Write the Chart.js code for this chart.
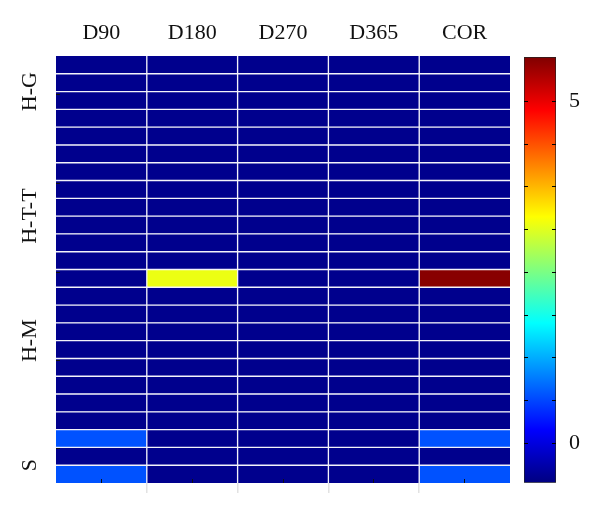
<!DOCTYPE html>
<html>
<head>
<meta charset="utf-8">
<title>Heatmap</title>
<script src="https://cdn.jsdelivr.net/npm/chart.js"></script>
<style>
    body { margin: 0; background: #fff; }
    .wrap { position: relative; width: 600px; height: 513px; }
    #heatmap { position: absolute; left: 0; top: 0; }
    #colorbar { position: absolute; left: 500px; top: 0; }
</style>
</head>
<body>
<div class="wrap">
    <canvas id="heatmap" width="600" height="513"></canvas>
    <canvas id="colorbar" width="100" height="513"></canvas>
</div>
<script>
// Columns across the top
const columns = ['D90', 'D180', 'D270', 'D365', 'COR'];

// 24 rows, top to bottom
const rows = ['1', '2', '3', '4', '5', '6', '7', '8', '9', '10', '11', '12',
              '13', '14', '15', '16', '17', '18', '19', '20', '21', '22', '23', '24'];

// Group labels on the left and the row position they sit at
const groupLabels = ['H-G', 'H-T-T', 'H-M', 'S'];
const groupRows = [2, 9, 16, 23];

// Small inner tick marks on the left edge (row units)
const leftTickRows = [4.66, 9.67, 14.68, 19.6];

// Cell values per column (top row first)
const d90  = [-0.5, -0.5, -0.5, -0.5, -0.5, -0.5, -0.5, -0.5, -0.5, -0.5, -0.5, -0.5,
              -0.5, -0.5, -0.5, -0.5, -0.5, -0.5, -0.5, -0.5, -0.5, 0.7, -0.5, 0.7];
const d180 = [-0.5, -0.5, -0.5, -0.5, -0.5, -0.5, -0.5, -0.5, -0.5, -0.5, -0.5, -0.5,
              3.2, -0.5, -0.5, -0.5, -0.5, -0.5, -0.5, -0.5, -0.5, -0.5, -0.5, -0.5];
const d270 = [-0.5, -0.5, -0.5, -0.5, -0.5, -0.5, -0.5, -0.5, -0.5, -0.5, -0.5, -0.5,
              -0.5, -0.5, -0.5, -0.5, -0.5, -0.5, -0.5, -0.5, -0.5, -0.5, -0.5, -0.5];
const d365 = [-0.5, -0.5, -0.5, -0.5, -0.5, -0.5, -0.5, -0.5, -0.5, -0.5, -0.5, -0.5,
              -0.5, -0.5, -0.5, -0.5, -0.5, -0.5, -0.5, -0.5, -0.5, -0.5, -0.5, -0.5];
const cor  = [-0.5, -0.5, -0.5, -0.5, -0.5, -0.5, -0.5, -0.5, -0.5, -0.5, -0.5, -0.5,
              5.6, -0.5, -0.5, -0.5, -0.5, -0.5, -0.5, -0.5, -0.5, 0.7, -0.5, 0.7];

// Colour scale range and colorbar ticks
const colorMin = -0.58;
const colorMax = 5.65;
const colorTicks = [0, 0.625, 1.25, 1.875, 2.5, 3.125, 3.75, 4.375, 5];
const colorTickLabels = ['0', '', '', '', '', '', '', '', '5'];

const serif = { family: '"Liberation Serif", "DejaVu Serif", serif', size: 22 };

// MATLAB style jet colormap
function clamp01(x) {
    return Math.max(0, Math.min(1, x));
}

function jet(v) {
    const t = clamp01((v - colorMin) / (colorMax - colorMin));
    const r = clamp01(Math.min(4 * t - 1.5, -4 * t + 4.5));
    const g = clamp01(Math.min(4 * t - 0.5, -4 * t + 3.5));
    const b = clamp01(Math.min(4 * t + 0.5, -4 * t + 2.5));
    return 'rgb(' + Math.round(r * 255) + ',' + Math.round(g * 255) + ',' + Math.round(b * 255) + ')';
}

function jetGradient(ctx) {
    const area = ctx.chart.chartArea;
    if (!area) return null;
    const g = ctx.chart.ctx.createLinearGradient(0, area.bottom, 0, area.top);
    g.addColorStop(0, '#000080');
    g.addColorStop(0.125, '#0000ff');
    g.addColorStop(0.375, '#00ffff');
    g.addColorStop(0.625, '#ffff00');
    g.addColorStop(0.875, '#ff0000');
    g.addColorStop(1, '#800000');
    return g;
}

// Build the heatmap: one floating bar dataset per column
function initializeHeatmap() {
    const values = [d90, d180, d270, d365, cor];
    const datasets = columns.map((name, c) => ({
        label: name,
        data: rows.map(() => [c, c + 1]),
        backgroundColor: values[c].map(jet),
        borderColor: '#f3f3fa',
        borderWidth: ctx => ({
            top: ctx.dataIndex === 0 ? 0 : 1,
            bottom: ctx.dataIndex === rows.length - 1 ? 0 : 1,
            left: c === 0 ? 0 : 1,
            right: c === columns.length - 1 ? 0 : 1
        }),
        borderSkipped: false,
        grouped: false,
        barPercentage: 1,
        categoryPercentage: 1
    }));

    new Chart(document.getElementById('heatmap'), {
        type: 'bar',
        data: { labels: rows, datasets: datasets },
        options: {
            indexAxis: 'y',
            responsive: false,
            animation: false,
            layout: { padding: { left: 0, top: 0, right: 90, bottom: 20 } },
            plugins: { legend: { display: false }, tooltip: { enabled: false } },
            scales: {
                x: {
                    type: 'linear',
                    position: 'top',
                    min: 0,
                    max: columns.length,
                    offset: false,
                    afterBuildTicks: s => { s.ticks = columns.map((_, i) => ({ value: i + 0.5 })); },
                    afterFit: s => { s.height = 56; },
                    ticks: {
                        callback: (v, i) => columns[i],
                        font: serif,
                        color: '#111',
                        padding: 10,
                        autoSkip: false,
                        maxRotation: 0
                    },
                    grid: { display: false, drawTicks: false },
                    border: { display: false }
                },
                // inner black ticks at column centres
                xc: {
                    type: 'linear',
                    position: 'bottom',
                    weight: 0,
                    min: 0,
                    max: columns.length,
                    offset: false,
                    afterBuildTicks: s => { s.ticks = columns.map((_, i) => ({ value: i + 0.5 })); },
                    afterFit: s => { s.height = 0; },
                    ticks: { display: false },
                    grid: { drawOnChartArea: false, tickLength: -4, color: '#111', z: 1 },
                    border: { display: false }
                },
                // light lines below the map at column boundaries
                xb: {
                    type: 'linear',
                    position: 'bottom',
                    weight: 1,
                    min: 0,
                    max: columns.length,
                    offset: false,
                    afterBuildTicks: s => { s.ticks = columns.slice(1).map((_, i) => ({ value: i + 1 })); },
                    afterFit: s => { s.height = 10; },
                    ticks: { display: false },
                    grid: { drawOnChartArea: false, tickLength: 10, color: '#e2e2e2', lineWidth: 1.5 },
                    border: { display: false }
                },
                y: {
                    type: 'category',
                    display: false
                },
                // inner black ticks on the left edge
                yt: {
                    type: 'linear',
                    position: 'left',
                    weight: 0,
                    min: 0,
                    max: rows.length,
                    reverse: true,
                    offset: false,
                    afterBuildTicks: s => { s.ticks = leftTickRows.map(v => ({ value: v })); },
                    afterFit: s => { s.width = 0; },
                    ticks: { display: false },
                    grid: { drawOnChartArea: false, tickLength: -4, color: '#111', z: 1 },
                    border: { display: false }
                },
                yl: {
                    type: 'linear',
                    position: 'left',
                    weight: 1,
                    min: 0,
                    max: rows.length,
                    reverse: true,
                    offset: false,
                    afterBuildTicks: s => { s.ticks = groupRows.map(v => ({ value: v })); },
                    afterFit: s => { s.width = 56; },
                    ticks: {
                        callback: (v, i) => groupLabels[i],
                        font: serif,
                        color: '#111',
                        minRotation: 90,
                        maxRotation: 90,
                        crossAlign: 'center',
                        padding: -2,
                        autoSkip: false
                    },
                    grid: { display: false, drawTicks: false },
                    border: { display: false }
                }
            }
        }
    });
}

// Build the colorbar on its own canvas
function initializeColorbar() {
    new Chart(document.getElementById('colorbar'), {
        type: 'bar',
        data: {
            labels: ['scale'],
            datasets: [{
                data: [[colorMin, colorMax]],
                backgroundColor: jetGradient,
                borderColor: '#222',
                borderWidth: 1,
                borderSkipped: false,
                barPercentage: 1,
                categoryPercentage: 1
            }]
        },
        options: {
            responsive: false,
            animation: false,
            layout: { padding: { left: 24, right: 0, top: 57, bottom: 29 } },
            plugins: { legend: { display: false }, tooltip: { enabled: false } },
            scales: {
                x: { display: false },
                y: {
                    type: 'linear',
                    position: 'right',
                    min: colorMin,
                    max: colorMax,
                    afterBuildTicks: s => { s.ticks = colorTicks.map(v => ({ value: v })); },
                    afterFit: s => { s.width = 44; },
                    ticks: {
                        callback: (v, i) => colorTickLabels[i],
                        font: serif,
                        color: '#111',
                        padding: 17,
                        autoSkip: false
                    },
                    grid: { drawOnChartArea: false, tickLength: -4, color: '#000', z: 1 },
                    border: { display: false }
                },
                y2: {
                    type: 'linear',
                    position: 'left',
                    min: colorMin,
                    max: colorMax,
                    afterBuildTicks: s => { s.ticks = colorTicks.map(v => ({ value: v })); },
                    afterFit: s => { s.width = 0; },
                    ticks: { display: false },
                    grid: { drawOnChartArea: false, tickLength: -4, color: '#000', z: 1 },
                    border: { display: false }
                }
            }
        }
    });
}

initializeHeatmap();
initializeColorbar();
</script>
</body>
</html>
